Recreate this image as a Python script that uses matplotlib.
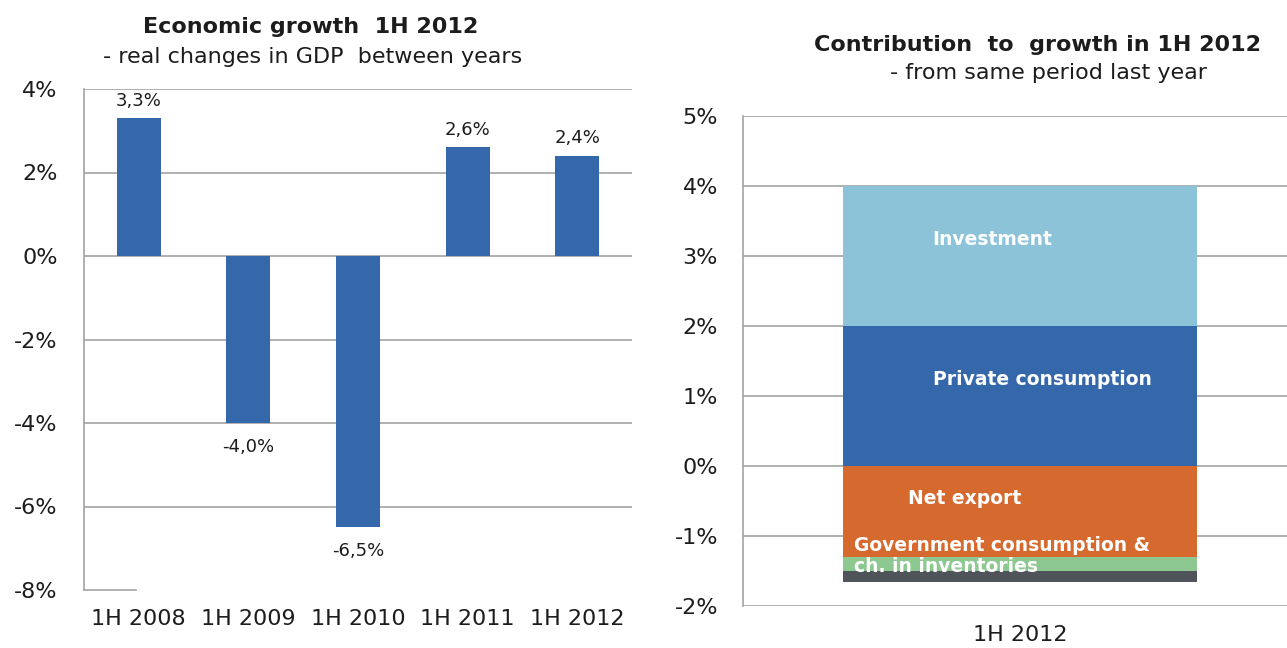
import matplotlib.pyplot as plt
from matplotlib.ticker import FuncFormatter

# GDP growth, first half of each year (%)
periods = ["1H 2008", "1H 2009", "1H 2010", "1H 2011", "1H 2012"]
growth = [3.3, -4.0, -6.5, 2.6, 2.4]

# Contributions to growth in 1H 2012 (percentage points), stacked outward from zero
contrib_names = ["Private consumption", "Investment", "Net export",
                 "Government consumption", "ch. in inventories"]
contrib_values = [2.0, 2.0, -1.3, -0.2, -0.15]
contrib_colors = ["#3567ab", "#8cc3d8", "#d5692e", "#8dc891", "#4e5459"]

BLUE = "#3567ab"
GRID = "#a3a3a3"
TXT = "#1c1c1c"
FONT = "DejaVu Sans"

plt.rcParams["font.family"] = FONT

fig = plt.figure(figsize=(12.87, 6.48), dpi=100)

pct = FuncFormatter(lambda v, _: f"{v:.0f}%")


def comma(v):
    return f"{v:.1f}%".replace(".", ",")


# ---- left: GDP growth ----
ax1 = fig.add_axes([84 / 1287, 1 - 590 / 648, 548 / 1287, 501 / 648])
x = range(len(periods))
ax1.bar(x, growth, width=0.4, color=BLUE, zorder=3)
ax1.set_xlim(-0.5, len(periods) - 0.5)
ax1.set_ylim(-8, 4)
ax1.set_yticks(range(-8, 5, 2))
ax1.yaxis.set_major_formatter(pct)
ax1.set_xticks(list(x))
ax1.set_xticklabels(periods)
for yv in range(-6, 5, 2):
    ax1.axhline(yv, color=GRID, lw=1.2, zorder=1)
# short baseline stub at the bottom
ax1.plot([-0.5, -0.03], [-8, -8], color=GRID, lw=1.2, clip_on=False, zorder=1)
for i, v in enumerate(growth):
    off = 0.2 if v > 0 else -0.35
    ax1.text(i, v + off, comma(v), ha="center", va="bottom" if v > 0 else "top",
             fontsize=13, color=TXT)
for s in ["top", "right", "bottom"]:
    ax1.spines[s].set_visible(False)
ax1.spines["left"].set_color(GRID)
ax1.spines["left"].set_linewidth(1.2)
ax1.tick_params(length=0, labelsize=16, colors=TXT)
ax1.tick_params(axis="y", pad=19)
ax1.tick_params(axis="x", pad=14)

fig.text(311 / 1287, 1 - 27 / 648, "Economic growth  1H 2012", ha="center", va="center",
         fontsize=16, fontweight="bold", color=TXT)
fig.text(313 / 1287, 1 - 57 / 648, "- real changes in GDP  between years", ha="center",
         va="center", fontsize=16, color=TXT)

# ---- right: contribution to growth ----
ax2 = fig.add_axes([743 / 1287, 1 - 606 / 648, 554 / 1287, 490 / 648])
pos_base, neg_base = 0.0, 0.0
for name, v, c in zip(contrib_names, contrib_values, contrib_colors):
    if v >= 0:
        ax2.bar(0, v, bottom=pos_base, width=0.64, color=c, zorder=3)
        pos_base += v
    else:
        ax2.bar(0, v, bottom=neg_base, width=0.64, color=c, zorder=3)
        neg_base += v
ax2.set_xlim(-0.5, 0.5)
ax2.set_ylim(-2, 5)
ax2.set_yticks(range(-2, 6))
ax2.yaxis.set_major_formatter(pct)
ax2.set_xticks([0])
ax2.set_xticklabels(["1H 2012"])
for yv in range(-2, 6):
    ax2.axhline(yv, color=GRID, lw=1.2, zorder=1)
for s in ["top", "right", "bottom"]:
    ax2.spines[s].set_visible(False)
ax2.spines["left"].set_color(GRID)
ax2.spines["left"].set_linewidth(1.2)
ax2.tick_params(length=0, labelsize=16, colors=TXT)
ax2.tick_params(axis="y", pad=18)
ax2.tick_params(axis="x", pad=14)

lab_kw = dict(color="white", fontsize=13.5, fontweight="bold", va="center")
ax2.text(-0.05, 3.23, contrib_names[1], ha="center", **lab_kw)
ax2.text(0.04, 1.23, contrib_names[0], ha="center", **lab_kw)
ax2.text(-0.1, -0.46, contrib_names[2], ha="center", **lab_kw)
ax2.text(-0.3, -1.13, contrib_names[3] + " &", ha="left", **lab_kw)
ax2.text(-0.3, -1.44, contrib_names[4], ha="left", **lab_kw)

fig.text(1037 / 1287, 1 - 45 / 648, "Contribution  to  growth in 1H 2012", ha="center",
         va="center", fontsize=16, fontweight="bold", color=TXT)
fig.text(1048 / 1287, 1 - 73 / 648, "- from same period last year", ha="center",
         va="center", fontsize=16, color=TXT)

fig.savefig("out.png", dpi=100, facecolor="white")
